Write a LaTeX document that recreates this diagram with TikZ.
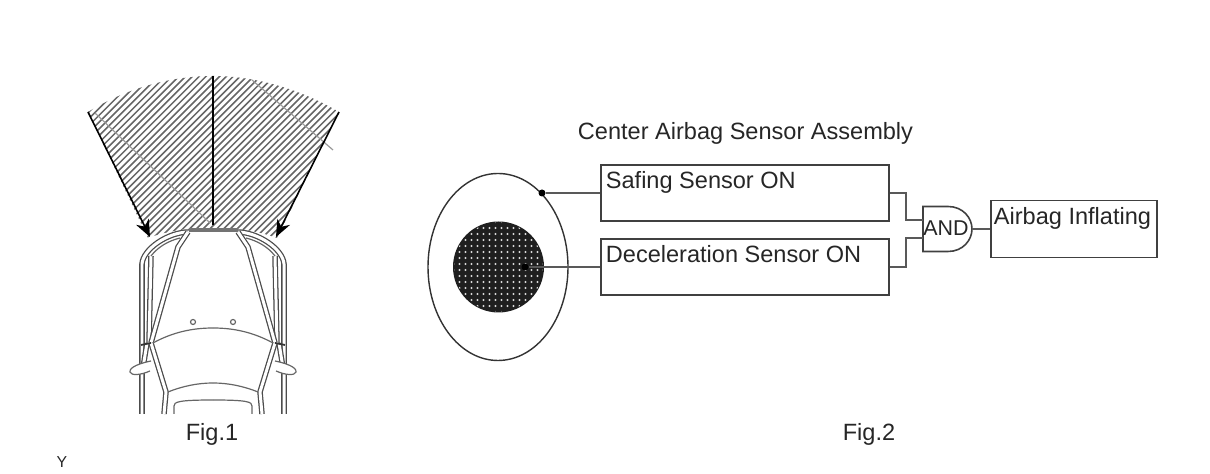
\documentclass[tikz,border=0pt]{standalone}
\usepackage{fontspec}
\setmainfont{Liberation Sans}
\usetikzlibrary{shapes.geometric}
\usetikzlibrary{arrows.meta}
\tikzset{
	sensorbox/.style={draw=black!75, line width=0.45pt, minimum height=0.56cm},
	boxtext/.style={anchor=north west, inner sep=0pt, xshift=0.05cm, yshift=-0.07cm, text=black!85},
	caption/.style={text=black!85},
	wire/.style={draw=black!65, line width=0.45pt},
	dbl/.style={draw=black!70, double=white, double distance=0.85pt, line width=0.36pt},
	thinline/.style={draw=black!60, line width=0.34pt},
	hatch/.style={draw=black!60, line width=0.44pt},
	sightline/.style={draw=black, line width=0.45pt}
}
\newcommand{\carside}[1] % mirror factor: 1 left, -1 right
{
	\begin{scope}[xshift=2.13cm, xscale=#1]
		% outer body and roof
		\draw[dbl] (-0.71,0.60) -- (-0.71,2.10) .. controls (-0.70,2.25) and (-0.45,2.42) .. (-0.24,2.42);
		% inner rail and inner roof
		\draw[dbl] (-0.62,2.18) -- (-0.64,1.31);
		\draw[thinline] (-0.62,2.18) .. controls (-0.55,2.27) and (-0.45,2.33) .. (-0.33,2.36);
		\draw[dbl] (-0.71,1.00) -- (-0.66,1.31);
		% front pillar
		\draw[dbl] (-0.25,2.42) -- (-0.35,2.27) -- (-0.62,1.31);
		% rear pillar
		\draw[dbl] (-0.62,1.31) -- (-0.47,0.82) -- (-0.49,0.60);
		% cross bar
		\draw[line width=0.5pt, black!80] (-0.72,1.29) -- (-0.62,1.31);
		% mirror
		\draw[thinline, fill=white] (-0.62,1.13) .. controls (-0.72,1.11) and (-0.84,1.07) .. (-0.83,1.02) .. controls (-0.82,0.98) and (-0.72,0.99) .. (-0.63,1.03);
		% arcs
		\draw[thinline] (-0.60,1.31) .. controls (-0.40,1.42) and (-0.20,1.46) .. (0,1.46);
		\draw[thinline] (-0.45,0.82) .. controls (-0.30,0.88) and (-0.15,0.91) .. (0,0.91);
		\draw[thinline] (-0.39,0.60) -- (-0.39,0.68) .. controls (-0.39,0.72) and (-0.35,0.74) .. (0,0.74);
		% small circle
		\draw[thinline] (-0.20,1.52) circle (0.025);
	\end{scope}
}
\begin{document}
\begin{tikzpicture}
	\useasboundingbox (0,0) rectangle (12.10,4.74);
	% hatched field
	\begin{scope}
		\clip (0.88,3.62) .. controls (1.30,3.88) and (1.75,3.98) .. (2.13,3.98) .. controls (2.50,3.98) and (2.95,3.88) .. (3.39,3.62) -- (2.77,2.36) .. controls (2.55,2.44) and (2.35,2.46) .. (2.13,2.46) .. controls (1.90,2.46) and (1.70,2.44) .. (1.48,2.36) -- cycle;
		\foreach \i in {-2.80,-2.732,...,0.50}
			\draw[hatch] (\i,0) -- (\i+5,5);
	\end{scope}
	\draw[thinline, black!40] (0.95,3.61) -- (2.10,2.51);
	\draw[thinline, black!40] (2.52,3.94) -- (3.33,3.24);
	% car
	\carside{1}
	\carside{-1}
	\draw[draw=black!55, line width=0.9pt] (1.89,2.44) -- (2.38,2.44);
	% sight lines
	\coordinate (leftfrom) at (0.88,3.62);
	\coordinate (leftto) at (1.50,2.37);
	\coordinate (rightfrom) at (3.39,3.62);
	\coordinate (rightto) at (2.76,2.37);
	\coordinate (midfrom) at (2.13,3.98);
	\coordinate (midto) at (2.13,2.49);
	\draw[sightline, -{Stealth[length=0.17cm, width=0.14cm]}] (leftfrom) -- (leftto);
	\draw[sightline, -{Stealth[length=0.17cm, width=0.14cm]}] (rightfrom) -- (rightto);
	\draw[sightline] (midfrom) -- (midto);
	% sensor assembly
	\node (body) [ellipse, draw=black!80, line width=0.4pt, inner sep=0, minimum width=1.40cm, minimum height=1.87cm] at (4.98,2.07) {};
	\node (core) [circle, fill=black!88, inner sep=0, minimum size=0.91cm] at (4.985,2.07) {};
	\begin{scope}
		\clip (4.985,2.07) circle (0.445);
		\foreach \a in {0,...,15}
			\foreach \b in {0,...,15}
				\fill[white!85!black] (4.535+0.06*\a,1.62+0.06*\b) circle (0.012);
	\end{scope}
	\node (safedot) [circle, fill=black, inner sep=0, minimum size=0.07cm] at (5.42,2.81) {};
	\node (decdot) [circle, fill=black, inner sep=0, minimum size=0.07cm] at (5.25,2.07) {};
	\node (safing) [sensorbox, minimum width=2.88cm, label={[boxtext, name=safingtext]north west:\fontsize{6.7}{8}\selectfont Safing Sensor ON}] at (7.45,2.81) {};
	\node (decel) [sensorbox, minimum width=2.88cm, label={[boxtext, name=deceltext]north west:\fontsize{6.7}{8}\selectfont Deceleration Sensor ON}] at (7.45,2.07) {};
	\node (airbag) [sensorbox, minimum width=1.66cm, minimum height=0.57cm, label={[boxtext, name=airbagtext, xshift=-0.02cm]north west:\fontsize{6.7}{8}\selectfont Airbag Inflating}] at (10.74,2.45) {};
	% and gate
	\draw[draw=black!75, line width=0.45pt] (9.23,2.675) -- (9.48,2.675) .. controls (9.63,2.675) and (9.72,2.56) .. (9.72,2.45) .. controls (9.72,2.34) and (9.63,2.225) .. (9.48,2.225) -- (9.23,2.225) -- cycle;
	\node (andgate) [inner sep=0, text=black!85, font=\fontsize{6.1}{7}\selectfont] at (9.46,2.46) {AND};
	\coordinate (andin1) at (9.23,2.54);
	\coordinate (andin2) at (9.23,2.36);
	\coordinate (andout) at (9.72,2.45);
	\draw[wire] (safedot) -- (safing.west);
	\draw[wire] (decdot) -- (decel.west);
	\draw[wire] (safing.east) -- ++(0.16,0) |- (andin1);
	\draw[wire] (decel.east) -- ++(0.16,0) |- (andin2);
	\draw[wire] (andout) -- (airbag.west);
	% texts
	\node (title) [caption, font=\fontsize{6.7}{8}\selectfont] at (7.455,3.41) {Center Airbag Sensor Assembly};
	\node (figa) [caption, font=\fontsize{6.7}{8}\selectfont] at (2.12,0.40) {Fig.1};
	\node (figb) [caption, font=\fontsize{6.7}{8}\selectfont] at (8.69,0.40) {Fig.2};
	\node (ylabel) [caption, font=\fontsize{4.5}{5}\selectfont] at (0.62,0.12) {Y};
\end{tikzpicture}
\end{document}
